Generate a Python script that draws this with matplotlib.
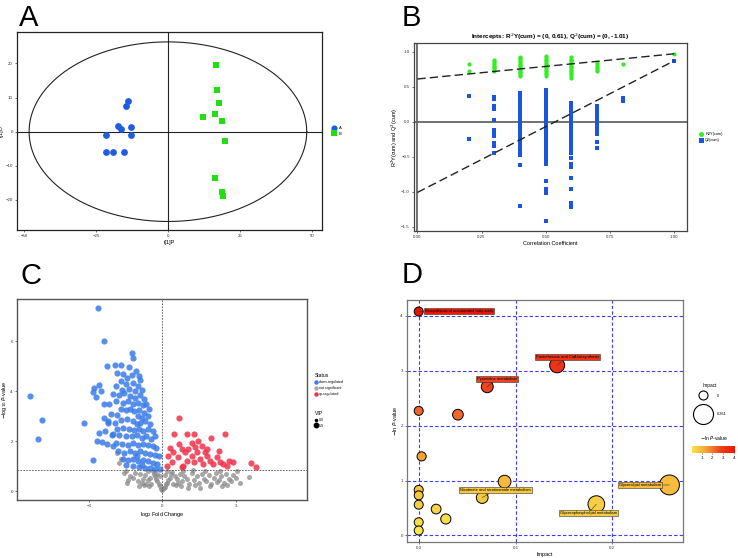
import numpy as np
import matplotlib
matplotlib.use("Agg")
import matplotlib.pyplot as plt
import matplotlib.colors as mcolors
from matplotlib.lines import Line2D

plt.rcParams['font.family'] = ['Liberation Sans', 'DejaVu Sans']

# ---------------- panel A : OPLS-DA scores ----------------
a_x = [-13.8, -14.4, -17.3, -16.4, -12.9, -21.6, -12.9, -21.6, -18.9, -15.2]
a_y = [9.1, 7.5, 1.8, 0.7, 1.5, -1.1, -1.1, -6.0, -6.0, -6.0]
b_x = [16.8, 17.1, 17.9, 12.3, 16.2, 18.7, 19.9, 16.2, 18.7, 19.0]
b_y = [19.4, 12.2, 8.4, 4.4, 5.1, 3.2, -2.7, -13.6, -17.6, -18.9]
ellipse_a, ellipse_b = 48.2, 26.3

# ---------------- panel B : permutation test ----------------
corr_levels = [0.2, 0.3, 0.4, 0.5, 0.6, 0.7, 0.8, 1.0]
r2_groups = [
    [0.83, 0.73],
    [0.88, 0.86, 0.84, 0.82, 0.80, 0.78, 0.76, 0.74, 0.72],
    [0.93, 0.91, 0.89, 0.87, 0.85, 0.83, 0.81, 0.79, 0.77, 0.75, 0.73, 0.71, 0.69, 0.67, 0.65],
    [0.94, 0.92, 0.90, 0.88, 0.86, 0.84, 0.82, 0.80, 0.78, 0.76, 0.74, 0.72, 0.70, 0.68, 0.66],
    [0.92, 0.90, 0.88, 0.86, 0.84, 0.82, 0.80, 0.78, 0.76, 0.74, 0.72, 0.70, 0.68, 0.66, 0.63],
    [0.84, 0.81, 0.78, 0.76, 0.74, 0.72],
    [0.82],
    [0.97],
]
q2_groups = [
    [0.37, -0.24],
    [0.35, 0.32, 0.22, 0.18, 0.03, -0.12, -0.15, -0.20, -0.30, -0.34, -0.45],
    [0.41, 0.38, 0.35, 0.30, 0.27, 0.22, 0.19, 0.15, 0.12, 0.08, 0.05, 0.01, -0.03, -0.07,
     -0.10, -0.14, -0.18, -0.21, -0.25, -0.29, -0.33, -0.37, -0.41, -0.45, -0.47, -0.62, -1.20],
    [0.45, 0.41, 0.37, 0.33, 0.29, 0.25, 0.21, 0.17, 0.13, 0.09, 0.05, 0.01, -0.03, -0.07,
     -0.11, -0.15, -0.19, -0.23, -0.27, -0.31, -0.35, -0.39, -0.43, -0.47, -0.51, -0.55,
     -0.61, -0.85, -0.96, -1.02, -1.42],
    [0.27, 0.23, 0.19, 0.15, 0.11, 0.07, 0.03, -0.01, -0.05, -0.09, -0.13, -0.17, -0.21,
     -0.25, -0.29, -0.33, -0.37, -0.41, -0.45, -0.52, -0.60, -0.64, -0.81, -0.96, -1.16, -1.22],
    [0.22, 0.18, 0.14, 0.08, 0.02, -0.03, -0.08, -0.13, -0.18, -0.29, -0.38],
    [0.34, 0.30],
    [0.87],
]
r2_line = [0.61, 0.97]   # value at corr 0 and corr 1
q2_line = [-1.01, 0.87]

# ---------------- panel C : volcano ----------------
down_x = [-2.61, -2.37, -1.22, -1.18, -2.24, -1.92, -1.67, -1.37, -1.07, -2.79, -2.59, -2.49,
          -2.83, -2.71, -5.40, -4.93, -5.09, -3.18, -2.83, -2.59, -2.65, -2.38, -2.19, -2.37,
          -2.23, -2.33, -2.45, -2.04, -2.01,
          -1.85, -1.60, -1.45, -1.25, -0.95, -0.90, -1.70, -1.50, -1.20, -1.00, -0.85, -1.90,
          -1.65, -1.35, -1.10,
          -2.00, -1.75, -1.55, -1.30, -1.10, -0.90, -0.75, -1.90, -1.60, -1.40, -1.20, -1.00,
          -0.80, -0.65, -1.70, -1.50, -1.30, -1.15, -0.95, -0.75, -0.55, -2.10, -1.85, -1.00,
          -0.85, -0.60,
          -2.20, -1.95, -1.70, -1.45, -1.20, -1.05, -0.90, -0.70, -0.50, -1.85, -1.60, -1.35,
          -1.15, -0.95, -0.80, -0.60, -0.40, -2.00, -1.75, -1.50, -1.25, -1.05, -0.85, -0.65,
          -0.45, -0.30,
          -2.25, -1.90, -1.65, -1.40, -1.20, -1.00, -0.80, -0.60, -0.40, -0.25, -1.80, -1.55,
          -1.30, -1.10, -0.90, -0.70, -0.50, -0.30, -0.15, -1.60, -1.40, -1.20, -1.00, -0.80,
          -0.60, -0.40, -0.20, -1.50, -1.20, -0.95, -0.70, -0.50, -0.30, -0.10, -1.05, -0.85]
down_y = [7.32, 6.03, 5.53, 5.35, 5.01, 5.04, 5.04, 4.96, 4.81, 4.13, 4.25, 4.03,
          3.96, 3.76, 3.83, 2.84, 2.09, 2.75, 1.27, 2.35, 2.00, 3.49, 3.49, 2.95,
          2.73, 2.43, 1.96, 2.25, 1.83,
          4.75, 4.70, 4.55, 4.65, 4.60, 4.45, 4.40, 4.30, 4.35, 4.20, 4.05, 4.20,
          4.05, 4.10, 4.00,
          3.90, 3.85, 3.95, 3.80, 3.75, 3.85, 3.70, 3.60, 3.55, 3.60, 3.50, 3.55,
          3.45, 3.50, 3.30, 3.25, 3.30, 3.20, 3.25, 3.15, 3.30, 3.10, 3.05, 3.00,
          2.95, 3.00,
          2.80, 2.75, 2.85, 2.90, 2.80, 2.70, 2.75, 2.80, 2.70, 2.50, 2.55, 2.50,
          2.45, 2.50, 2.40, 2.50, 2.40, 2.30, 2.25, 2.20, 2.20, 2.25, 2.15, 2.20,
          2.10, 2.20,
          1.90, 1.95, 1.90, 1.85, 1.95, 1.85, 1.90, 1.85, 1.80, 1.75, 1.60, 1.55,
          1.60, 1.55, 1.60, 1.55, 1.50, 1.45, 1.40, 1.30, 1.25, 1.30, 1.20, 1.25,
          1.20, 1.15, 1.10, 1.05, 1.00, 0.98, 0.95, 0.92, 0.90, 0.90, 1.40, 1.05]
up_x = [0.69, 0.48, 1.02, 1.27, 2.00, 2.56, 0.68, 1.22, 1.63, 2.30, 3.62, 3.82, 2.90, 2.73,
        2.35, 0.31, 0.45, 0.79, 0.38, 0.86, 0.18, 1.20, 1.40, 1.54, 1.81, 1.95, 2.08, 1.67,
        1.27, 1.00, 0.65, 1.33, 1.81, 2.22, 2.49, 2.63, 1.73, 1.47, 0.24, 0.93, 1.06, 0.79]
up_y = [2.93, 2.31, 2.31, 2.31, 2.15, 2.28, 1.91, 1.95, 1.83, 1.60, 1.12, 0.99, 1.16, 1.23,
        1.19, 1.72, 1.56, 1.69, 1.16, 1.03, 1.03, 1.43, 1.56, 1.29, 1.43, 1.23, 1.09, 1.09,
        1.16, 1.23, 1.36, 1.76, 1.69, 1.36, 1.09, 1.03, 1.56, 2.03, 1.43, 1.56, 1.69, 0.96]
ns_x = [0.00, -0.05, 0.05, -0.10, 0.10, -0.15, 0.15, -0.20, 0.20, -0.25, 0.25, -0.30, 0.30,
        -0.35, 0.35, -0.40, 0.40, -0.50, 0.50, -0.60, 0.60, -0.70, 0.70, -0.80, 0.80, -0.90,
        0.90, -1.00, 1.00, -1.10, 1.10, -1.20, 1.20, -1.30, 1.30, 1.40, 1.50, 1.60, 1.70,
        1.80, 1.90, 2.00, 2.10, 2.20, 2.30, 2.40, 2.50, 2.60, 2.70, 2.80, 2.90, 3.00, 0.55,
        0.75, 1.05, 1.35, 0.45, 0.65, -0.45, -0.55, -0.65, -0.75, -0.85, -0.95, -0.20, -0.10,
        0.10, 0.20, -0.60, 0.85, 1.25, 1.75, 2.35, -1.55, -1.45, 1.55, 1.95, 2.45,
        -1.84, -1.76, -1.39, -1.50, -1.70, 3.54, 3.17, 2.63, 2.24, 3.03]
ns_y = [0.05, 0.10, 0.12, 0.20, 0.18, 0.30, 0.28, 0.40, 0.35, 0.50, 0.45, 0.60, 0.55,
        0.70, 0.68, 0.80, 0.78, 0.55, 0.60, 0.45, 0.50, 0.65, 0.70, 0.50, 0.40, 0.70,
        0.62, 0.40, 0.50, 0.75, 0.30, 0.55, 0.72, 0.60, 0.45, 0.60, 0.35, 0.70, 0.50,
        0.40, 0.65, 0.30, 0.55, 0.75, 0.45, 0.60, 0.35, 0.70, 0.50, 0.42, 0.65, 0.55, 0.25,
        0.20, 0.15, 0.25, 0.30, 0.35, 0.30, 0.20, 0.30, 0.25, 0.35, 0.20, 0.70, 0.60,
        0.65, 0.80, 0.80, 0.82, 0.85, 0.82, 0.80, 0.72, 0.35, 0.15, 0.20, 0.20,
        1.52, 1.13, 0.47, 0.80, 1.30, 0.59, 0.33, 0.27, 0.36, 0.80]
p_threshold = 0.85

# ---------------- panel D : pathway impact ----------------
impact = [0.0, 0.143, 0.0708, 0.0, 0.0405, 0.003, 0.0887, 0.259, 0.0, 0.0, 0.0656, 0.1835,
          0.0, 0.018, 0.028, 0.0, 0.0]
neg_ln_p = [4.08, 3.10, 2.71, 2.27, 2.20, 1.44, 0.98, 0.92, 0.83, 0.73, 0.69, 0.57,
            0.56, 0.48, 0.30, 0.24, 0.09]
pathway_names = ["Biosynthesis of unsaturated fatty acids", "Pantothenate and CoA biosynthesis",
                 "Pyrimidine metabolism", "Nicotinate and nicotinamide metabolism",
                 "Glycerophospholipid metabolism", "Glycerolipid metabolism"]
pathway_index = [0, 1, 2, 10, 11, 7]
label_pos = [(0.006, 4.085), (0.154, 3.26), (0.0806, 2.85), (0.079, 0.82), (0.175, 0.40), (0.229, 0.91)]
label_ha = ["left", "center", "center", "center", "center", "center"]
size_keys = [0, 0.261]

W, H = 738, 558
fig = plt.figure(figsize=(W / 100, H / 100), dpi=100)


def box(x0, y0, x1, y1):
    return [x0 / W, 1 - y1 / H, (x1 - x0) / W, (y1 - y0) / H]


def style_axes(ax, spine_color="#555555", lw=1.0):
    for s in ax.spines.values():
        s.set_color(spine_color)
        s.set_linewidth(lw)
    ax.tick_params(labelsize=3.2, length=1.5, width=0.5, colors="#333333", pad=1.5)


lab_fs = 4.0

# ---- A ----
axA = fig.add_axes(box(17, 32, 322, 230))
axA.scatter(a_x, a_y, s=24, color="#1f5ce0", marker="o", label="A", zorder=3, linewidths=0)
axA.scatter(b_x, b_y, s=24, color="#22dd11", marker="s", label="B", zorder=3, linewidths=0)
t = np.linspace(0, 2 * np.pi, 400)
axA.plot(ellipse_a * np.cos(t), ellipse_b * np.sin(t), color="#222222", lw=0.8)
axA.axhline(0, color="#222222", lw=0.8)
axA.axvline(0, color="#222222", lw=0.8)
axA.set_xlim(-52.4, 53.5)
axA.set_ylim(-28.8, 29.2)
axA.set_xticks([-50, -25, 0, 25, 50])
axA.set_yticks([-20, -10, 0, 10, 20])
style_axes(axA, "#222222", 0.9)
axA.set_xlabel("t[1]P", fontsize=lab_fs, labelpad=1)
axA.set_ylabel("t[1]O", fontsize=lab_fs, labelpad=1)
axA.legend(loc="center left", bbox_to_anchor=(1.02, 0.5), frameon=False, fontsize=3.0,
           handletextpad=0.0, labelspacing=0.25, markerscale=0.9, borderpad=0)

# ---- B ----
axB = fig.add_axes(box(414, 43, 687, 231))
r2_xs = [c for c, g in zip(corr_levels, r2_groups) for _ in g]
r2_ys = [v for g in r2_groups for v in g]
q2_xs = [c for c, g in zip(corr_levels, q2_groups) for _ in g]
q2_ys = [v for g in q2_groups for v in g]
axB.axhline(0, color="#666666", lw=1.3, zorder=1)
axB.axvline(0, color="#666666", lw=1.3, zorder=1)
axB.scatter(r2_xs, r2_ys, s=9, color="#33ee22", marker="o", label="R2Y(cum)", zorder=3, linewidths=0)
axB.scatter(q2_xs, q2_ys, s=9, color="#1a55dd", marker="s", label="Q2(cum)", zorder=3, linewidths=0)
axB.plot([0, 1], r2_line, ls=(0, (6, 3)), color="#222222", lw=1.0, zorder=4)
axB.plot([0, 1], q2_line, ls=(0, (6, 3)), color="#222222", lw=1.0, zorder=4)
axB.set_xlim(-0.013, 1.05)
axB.set_ylim(-1.56, 1.124)
axB.set_xticks([0, 0.25, 0.5, 0.75, 1.0])
axB.set_xticklabels(["0.00", "0.25", "0.50", "0.75", "1.00"])
axB.set_yticks([-1.5, -1.0, -0.5, 0.0, 0.5, 1.0])
style_axes(axB, "#444444", 0.9)
axB.set_xlabel("Correlation Coefficient", fontsize=lab_fs, labelpad=1)
axB.set_ylabel("R$^2$Y(cum) and Q$^2$(cum)", fontsize=lab_fs, labelpad=1)
axB.set_title("Intercepts: R$^2$Y(cum) = (0, 0.61), Q$^2$(cum) = (0, -1.01)", fontsize=4.6,
              fontweight="bold", pad=3)
axB.legend(loc="center left", bbox_to_anchor=(1.03, 0.5), frameon=False, fontsize=2.8,
           handletextpad=0.1, labelspacing=0.4, markerscale=1.2, borderpad=0)

# ---- C ----
axC = fig.add_axes(box(17, 299, 307, 500))
axC.scatter(ns_x, ns_y, s=13, color="#8a8a8a", alpha=0.75, linewidths=0, zorder=2)
axC.scatter(down_x, down_y, s=20, color="#3a7be8", alpha=0.85, linewidths=0, zorder=3)
axC.scatter(up_x, up_y, s=20, color="#f0324a", alpha=0.85, linewidths=0, zorder=3)
axC.axhline(p_threshold, color="#555555", lw=0.6, ls=(0, (2, 1.5)), zorder=4)
axC.axvline(0, color="#555555", lw=0.6, ls=(0, (2, 1.5)), zorder=4)
axC.set_xlim(-5.93, 5.9)
axC.set_ylim(-0.35, 7.69)
axC.set_xticks([-3, 0, 3])
axC.set_yticks([0, 2, 4, 6])
style_axes(axC, "#555555", 1.0)
axC.set_xlabel(r"log$_2$ Fold Change", fontsize=lab_fs, labelpad=1)
axC.set_ylabel(r"$-$log$_{10}$ $P$-value", fontsize=lab_fs, labelpad=1)
status_handles = [Line2D([], [], ls="", marker="o", ms=2.2, color=c, label=l)
                  for c, l in zip(["#3a7be8", "#aaaaaa", "#f0324a"],
                                  ["down-regulated", "not significant", "up-regulated"])]
leg1 = axC.legend(handles=status_handles, title="Status", loc="upper left",
                  bbox_to_anchor=(1.02, 0.64), frameon=False, fontsize=2.6, title_fontsize=3.6,
                  handletextpad=0.2, labelspacing=0.55, borderpad=0, handlelength=1.0)
leg1._legend_box.align = "left"
axC.add_artist(leg1)
vip_handles = [Line2D([], [], ls="", marker="o", ms=ms, color="black", label=l)
               for ms, l in zip([1.5, 3.2], ["0.0", "1.9"])]
leg2 = axC.legend(handles=vip_handles, title="VIP", loc="upper left",
                  bbox_to_anchor=(1.02, 0.45), frameon=False, fontsize=2.6, title_fontsize=3.6,
                  handletextpad=0.2, labelspacing=0.45, borderpad=0, handlelength=1.0)
leg2._legend_box.align = "left"

# ---- D ----
axD = fig.add_axes(box(407, 300, 683, 542))
cmap = mcolors.LinearSegmentedColormap.from_list("yr", ["#f8e64c", "#f6a233", "#ee4020", "#ee1500"])
norm = mcolors.Normalize(vmin=min(neg_ln_p), vmax=max(neg_ln_p))
imp = np.array(impact)


def diameter_pt(v):
    return (9 + 11 * np.asarray(v) / 0.261) / 1.389


sizes = diameter_pt(imp) ** 2
order = np.argsort(-imp)
axD.scatter(imp[order], np.array(neg_ln_p)[order], s=sizes[order],
            c=np.array(neg_ln_p)[order], cmap=cmap, norm=norm,
            edgecolors="black", linewidths=0.7, zorder=3)
axD.grid(True, color="#3a3aff", ls=(0, (3, 2)), lw=0.8, zorder=1)
axD.set_axisbelow(True)
axD.set_xlim(-0.0121, 0.273)
axD.set_ylim(-0.12, 4.29)
axD.set_xticks([0, 0.1, 0.2])
axD.set_yticks([0, 1, 2, 3, 4])
style_axes(axD, "#777777", 0.9)
axD.set_xlabel("Impact", fontsize=lab_fs, labelpad=1)
axD.set_ylabel(r"$-$ln $P$-value", fontsize=lab_fs, labelpad=1)
for name, idx, pos, ha in zip(pathway_names, pathway_index, label_pos, label_ha):
    axD.annotate(name, xy=(impact[idx], neg_ln_p[idx]), xytext=pos, ha=ha, va="center",
                 fontsize=2.9, zorder=5,
                 bbox=dict(boxstyle="square,pad=0.25", fc=cmap(norm(neg_ln_p[idx])),
                           ec="#333333", lw=0.4),
                 arrowprops=dict(arrowstyle="-", lw=0.4, color="#333333", shrinkA=0, shrinkB=0))

# size legend: one single-entry legend per key so the two circles do not collide
fig.text(709.7 / W, 1 - 387 / H, "Impact", fontsize=3.4, ha="center", va="baseline")
for key, ypx in zip(size_keys, [395.7, 414]):
    h = Line2D([], [], ls="", marker="o", ms=float(diameter_pt(key)), mfc="white",
               mec="black", mew=0.8, label=f"{key:g}")
    lg = fig.legend(handles=[h], loc="center left", bbox_to_anchor=(698.7 / W, 1 - ypx / H),
                    bbox_transform=fig.transFigure, frameon=False, fontsize=2.8,
                    handletextpad=2.6, handlelength=2.2, borderpad=0, borderaxespad=0)

# colour bar
cax = fig.add_axes(box(691.7, 446, 735, 453))
sm = plt.cm.ScalarMappable(cmap=cmap, norm=norm)
cb = fig.colorbar(sm, cax=cax, orientation="horizontal", ticks=[1, 2, 3, 4])
cb.outline.set_visible(False)
cb.ax.tick_params(labelsize=3.2, length=1, width=0.4, pad=1)
fig.text(713.5 / W, 1 - 440 / H, r"$-$ln $P$-value", fontsize=3.6, ha="center", va="baseline")

# panel letters
for letter, x, y in [("A", 19, 26), ("B", 402, 26), ("C", 20, 284), ("D", 402, 283)]:
    fig.text(x / W, 1 - y / H, letter, fontsize=21, ha="left", va="baseline")

fig.savefig("out.png", dpi=100)
